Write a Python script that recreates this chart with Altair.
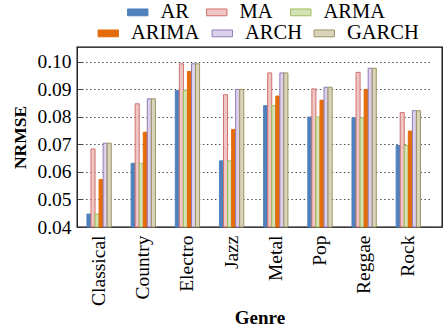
import altair as alt
import pandas as pd

# NRMSE per genre for each forecasting model
genres = ["Classical", "Country", "Electro", "Jazz", "Metal", "Pop", "Reggae", "Rock"]
models = ["AR", "MA", "ARMA", "ARIMA", "ARCH", "GARCH"]

ar = [0.0447, 0.0631, 0.0895, 0.0640, 0.0840, 0.0799, 0.0796, 0.0696]
ma = [0.0683, 0.0847, 0.0992, 0.0880, 0.0959, 0.0901, 0.0961, 0.0815]
arma = [0.0447, 0.0631, 0.0895, 0.0640, 0.0840, 0.0799, 0.0796, 0.0696]
arima = [0.0572, 0.0744, 0.0964, 0.0754, 0.0875, 0.0860, 0.0899, 0.0748]
arch = [0.0704, 0.0865, 0.0992, 0.0899, 0.0959, 0.0907, 0.0976, 0.0822]
garch = [0.0704, 0.0865, 0.0992, 0.0899, 0.0959, 0.0907, 0.0976, 0.0822]

y_ticks = [0.04, 0.05, 0.06, 0.07, 0.08, 0.09, 0.10]

records = []
for name, vals in zip(models, [ar, ma, arma, arima, arch, garch]):
    for g, v in zip(genres, vals):
        records.append({"Genre": g, "Model": name, "NRMSE": v})
df = pd.DataFrame(records)

FONT = "Liberation Serif"

# solid bars for AR / ARIMA, pale hatched-look bars for the rest
fill_map = {
    "AR": "#4f81bd", "MA": "#efc6c4", "ARMA": "#d3e3b6",
    "ARIMA": "#e46c0a", "ARCH": "#dbd1ea", "GARCH": "#dad5ba",
}
stroke_map = {
    "AR": "#4f81bd", "MA": "#cf716e", "ARMA": "#9cbc5c",
    "ARIMA": "#e46c0a", "ARCH": "#927bb6", "GARCH": "#9c9463",
}

row1 = ["AR", "MA", "ARMA"]
row2 = ["ARIMA", "ARCH", "GARCH"]

PLOT_W, PLOT_H = 365, 180

# dotted grid with short solid tick stubs at both ends
stub, dot, n_dots = 6.0, 1.5, 87
gap = (PLOT_W - 2 * stub - n_dots * dot) / (n_dots + 1)
grid_dash = [stub, gap]
for _ in range(n_dots):
    grid_dash += [dot, gap]
grid_dash += [stub, 0.0]


def row_legend(x, y, spacing):
    return alt.Legend(
        title=None, orient="none", legendX=x, legendY=y, direction="horizontal",
        symbolType="M-1.5,-0.5H1.5V0.5H-1.5Z", symbolSize=185, symbolStrokeWidth=1,
        labelFont=FONT, labelFontSize=20.5, labelColor="black", labelOffset=12.5,
        columnPadding=spacing, padding=0,
    )


base = alt.Chart(df).encode(
    x=alt.X(
        "Genre:N", sort=genres,
        scale=alt.Scale(range=[0, 353.4], paddingInner=0.45, paddingOuter=0.225),
        axis=alt.Axis(
            title="Genre", titleFont=FONT, titleFontSize=19, titleFontWeight="bold",
            titleColor="black", titlePadding=3, titleX=182.5,
            labelAngle=270, labelAlign="right", labelBaseline="middle",
            labelFont=FONT, labelFontSize=19.5, labelColor="black", labelPadding=8,
            ticks=False, tickSize=0, domain=False, grid=False,
        ),
    ),
    xOffset=alt.XOffset(
        "Model:N", sort=models,
        scale=alt.Scale(domain=models, paddingInner=0, paddingOuter=0),
    ),
    y=alt.Y(
        "NRMSE:Q",
        scale=alt.Scale(domain=[0.04, 0.1053], nice=False, zero=False),
        axis=alt.Axis(
            title="NRMSE", titleFont=FONT, titleFontSize=17.5, titleFontWeight="bold",
            titleColor="black", titlePadding=7,
            values=y_ticks, format=".2f",
            labelFont=FONT, labelFontSize=19.5, labelColor="black", labelPadding=6,
            ticks=False, tickSize=0, domain=False,
            grid=True, gridDash=grid_dash, gridColor="#333333", gridWidth=0.9,
        ),
    ),
    y2=alt.datum(0.04),
)


def model_layer(names, lx, ly, spacing):
    leg = row_legend(lx, ly, spacing)
    return base.transform_filter(
        alt.FieldOneOfPredicate(field="Model", oneOf=names)
    ).mark_bar(strokeWidth=1).encode(
        fill=alt.Fill(
            "Model:N",
            scale=alt.Scale(domain=names, range=[fill_map[n] for n in names]),
            legend=leg,
        ),
        stroke=alt.Stroke(
            "Model:N",
            scale=alt.Scale(domain=names, range=[stroke_map[n] for n in names]),
            legend=leg,
        ),
    )


chart = alt.layer(
    model_layer(row1, 50.5, -45, 15),
    model_layer(row2, 21, -24, 10),
).resolve_scale(
    fill="independent", stroke="independent"
).resolve_legend(
    fill="independent", stroke="independent"
).properties(
    width=PLOT_W, height=PLOT_H,
    autosize=alt.AutoSizeParams(type="none"),
    padding={"left": 77, "top": 47, "right": 2, "bottom": 106},
).configure(
    font=FONT, background="white"
).configure_view(
    stroke="black", strokeWidth=1.3
)

chart.save("out.html", embed_options={"renderer": "svg", "actions": False})
